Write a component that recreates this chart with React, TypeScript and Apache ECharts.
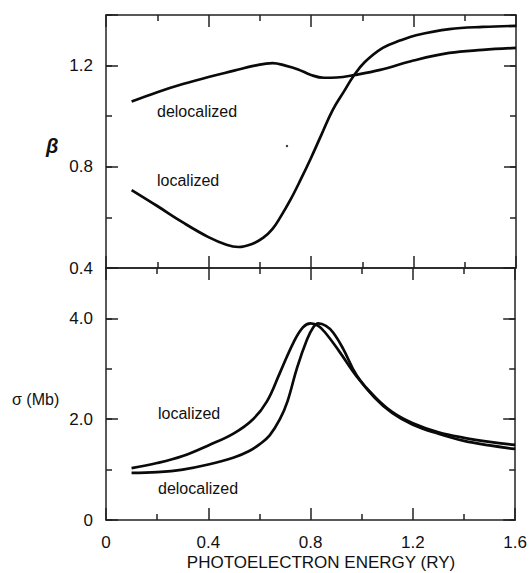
import React, { useEffect, useRef } from "react";
import * as echarts from "echarts";

// Top panel: asymmetry parameter beta
const betaDelocX = [0.1, 0.2, 0.3, 0.4, 0.5, 0.58, 0.65, 0.7, 0.75, 0.8, 0.85, 0.9, 0.97, 1.07, 1.2, 1.34, 1.47, 1.6];
const betaDelocY = [1.058, 1.095, 1.127, 1.155, 1.18, 1.2, 1.21, 1.2, 1.185, 1.163, 1.152, 1.153, 1.163, 1.183, 1.22, 1.25, 1.262, 1.27];
const betaLocX = [0.1, 0.2, 0.3, 0.4, 0.47, 0.517, 0.57, 0.614, 0.65, 0.68, 0.72, 0.76, 0.8, 0.84, 0.885, 0.93, 0.966, 1.01, 1.08, 1.15, 1.21, 1.34, 1.47, 1.6];
const betaLocY = [0.708, 0.645, 0.58, 0.522, 0.492, 0.483, 0.495, 0.52, 0.555, 0.6, 0.67, 0.75, 0.835, 0.925, 1.025, 1.1, 1.159, 1.214, 1.27, 1.3, 1.32, 1.344, 1.353, 1.357];

// Bottom panel: cross section sigma (Mb)
const sigLocX = [0.1, 0.2, 0.3, 0.4, 0.5, 0.575, 0.63, 0.68, 0.733, 0.77, 0.8, 0.83, 0.857, 0.91, 0.98, 1.05, 1.12, 1.2, 1.3, 1.4, 1.5, 1.6];
const sigLocY = [1.03, 1.13, 1.27, 1.48, 1.72, 2.0, 2.36, 2.92, 3.52, 3.82, 3.9, 3.85, 3.72, 3.36, 2.85, 2.45, 2.14, 1.92, 1.74, 1.63, 1.55, 1.49];
const sigDelocX = [0.1, 0.2, 0.3, 0.4, 0.5, 0.56, 0.6, 0.64, 0.68, 0.71, 0.747, 0.786, 0.81, 0.83, 0.86, 0.888, 0.927, 0.98, 1.05, 1.12, 1.2, 1.3, 1.4, 1.5, 1.6];
const sigDelocY = [0.935, 0.95, 1.0, 1.1, 1.24, 1.37, 1.5, 1.68, 2.0, 2.36, 3.02, 3.58, 3.82, 3.9, 3.85, 3.72, 3.4, 2.87, 2.43, 2.12, 1.89, 1.71, 1.57, 1.48, 1.41];

const xTickValues = [0, 0.4, 0.8, 1.2, 1.6];

const zip = (xs: number[], ys: number[]) => xs.map((x, i) => [x, ys[i]]);

const FONT = "'Liberation Sans', Arial, sans-serif";
const AX = "#222";

export default function App() {
  const ref = useRef<HTMLDivElement>(null);
  useEffect(() => {
    document.body.style.margin = "0";
    if (!ref.current) return;
    const chart = echarts.init(ref.current, undefined, { renderer: "svg" });

    const xBase = (gridIndex: number, position: string, showLabel: boolean) => ({
      type: "value",
      gridIndex,
      position,
      min: 0,
      max: 1.6,
      interval: 0.4,
      axisLine: { show: true, onZero: false, lineStyle: { color: AX, width: 1.5 } },
      axisTick: { show: true, inside: true, length: 12, lineStyle: { color: AX, width: 1.5 } },
      minorTick: { show: true, splitNumber: 2, length: 6, lineStyle: { color: AX, width: 1.5 } },
      splitLine: { show: false },
      axisLabel: {
        show: showLabel,
        margin: 14,
        fontSize: 17,
        color: "#111",
        fontFamily: FONT,
        formatter: (v: number) => (xTickValues.includes(v) ? (v === 0 ? "0" : v.toFixed(1)) : ""),
      },
    });

    const yBase = (
      gridIndex: number,
      position: string,
      min: number,
      max: number,
      interval: number,
      major: boolean,
      showLabel: boolean,
      fmt?: (v: number) => string
    ) => ({
      type: "value",
      gridIndex,
      position,
      min,
      max,
      interval,
      axisLine: { show: major, onZero: false, lineStyle: { color: AX, width: 1.5 } },
      axisTick: { show: true, inside: true, length: major ? 12 : 6, lineStyle: { color: AX, width: 1.5 } },
      splitLine: { show: false },
      axisLabel: {
        show: showLabel,
        margin: 13,
        fontSize: 17,
        color: "#111",
        fontFamily: FONT,
        formatter: fmt,
      },
    });

    const lineSeries = (data: number[][], xi: number, yi: number) => ({
      type: "line",
      data,
      xAxisIndex: xi,
      yAxisIndex: yi,
      smooth: 0.4,
      symbol: "none",
      lineStyle: { color: "#0a0a0a", width: 2.7 },
      silent: true,
    });

    const txt = (text: string, x: number, y: number, extra: any = {}) => ({
      type: "text",
      x,
      y,
      style: {
        text,
        fontSize: 16,
        fontFamily: FONT,
        fill: "#111",
        textAlign: "left",
        textVerticalAlign: "middle",
        verticalAlign: "middle",
        ...extra,
      },
    });

    chart.setOption({
      animation: false,
      backgroundColor: "#fff",
      grid: [
        { left: 106, right: 14, top: 15, height: 253 },
        { left: 106, right: 13, top: 268, height: 252 },
      ],
      xAxis: [xBase(0, "bottom", false), xBase(0, "top", false), xBase(1, "bottom", true), xBase(1, "top", false)],
      yAxis: [
        yBase(0, "left", 0.4, 1.4, 0.4, true, true, (v: number) => (Math.abs(v - 1.4) < 1e-6 ? "" : v.toFixed(1))),
        yBase(0, "left", 0.4, 1.4, 0.2, false, false),
        yBase(0, "right", 0.4, 1.4, 0.4, true, false),
        yBase(0, "right", 0.4, 1.4, 0.2, false, false),
        yBase(1, "left", 0, 5, 2, true, true, (v: number) => (v === 0 ? "0" : v === 5 ? "" : v.toFixed(1))),
        yBase(1, "left", 0, 5, 1, false, false),
        yBase(1, "right", 0, 5, 2, true, false),
        yBase(1, "right", 0, 5, 1, false, false),
      ],
      series: [
        lineSeries(zip(betaDelocX, betaDelocY), 0, 0),
        lineSeries(zip(betaLocX, betaLocY), 0, 0),
        lineSeries(zip(sigLocX, sigLocY), 2, 4),
        lineSeries(zip(sigDelocX, sigDelocY), 2, 4),
      ],
      graphic: [
        txt("delocalized", 157, 111),
        txt("localized", 157, 180),
        txt("localized", 158, 413),
        txt("delocalized", 158, 488),
        txt("β", 46, 146, { fontSize: 20, fontStyle: "italic", fontWeight: "bold" }),
        txt("σ (Mb)", 12, 399, { fontSize: 16 }),
        txt("PHOTOELECTRON ENERGY (RY)", 321, 562, { fontSize: 17, textAlign: "center" }),
        { type: "circle", shape: { cx: 287, cy: 146, r: 1.2 }, style: { fill: "#333" } },
      ],
    });

    return () => chart.dispose();
  }, []);

  return <div ref={ref} style={{ width: 530, height: 573 }} />;
}
